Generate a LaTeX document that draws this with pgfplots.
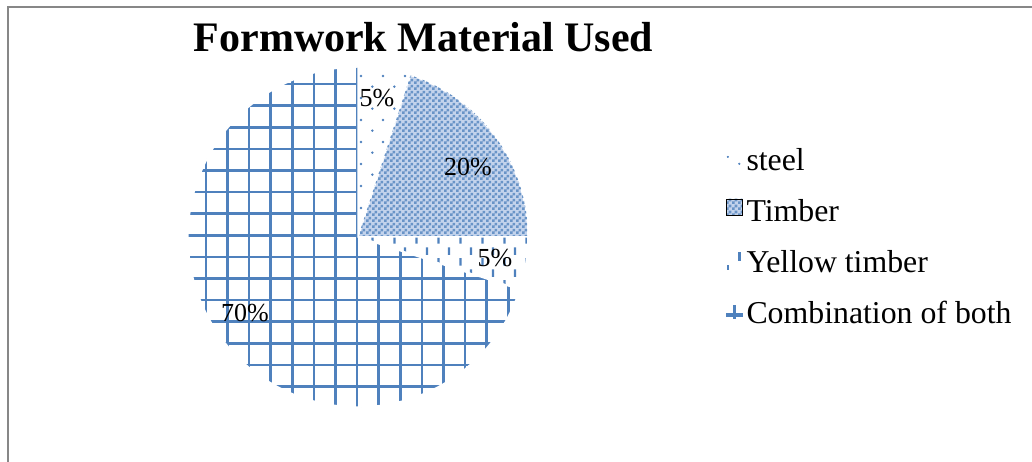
\documentclass[border=0pt]{standalone}
\usepackage{pgfplots}
\pgfplotsset{compat=1.18}
\usepackage{pgfplotstable}
\usepackage{fontspec}
\setmainfont{Liberation Serif}
\usetikzlibrary{patterns}
\definecolor{accblue}{HTML}{4F81BD}
\definecolor{lightacc}{HTML}{C3D3EC}
\definecolor{framegray}{HTML}{878787}

\pgfdeclarepatternformonly{pdots}{\pgfpoint{0bp}{0bp}}{\pgfpoint{21.6bp}{21.6bp}}{\pgfpoint{21.6bp}{21.6bp}}{%
  \pgfpathcircle{\pgfpoint{5.4bp}{5.4bp}}{1.4bp}%
  \pgfpathcircle{\pgfpoint{16.2bp}{16.2bp}}{1.4bp}%
  \pgfusepath{fill}}
\pgfdeclarepatternformonly{pdash}{\pgfpoint{0bp}{0bp}}{\pgfpoint{21.6bp}{21.6bp}}{\pgfpoint{21.6bp}{21.6bp}}{%
  \pgfpathrectangle{\pgfpoint{4.4bp}{1.5bp}}{\pgfpoint{2.2bp}{7.5bp}}%
  \pgfpathrectangle{\pgfpoint{15.2bp}{12.3bp}}{\pgfpoint{2.2bp}{7.5bp}}%
  \pgfusepath{fill}}
\pgfdeclarepatternformonly{pcheck}{\pgfpoint{0bp}{0bp}}{\pgfpoint{6bp}{6bp}}{\pgfpoint{6bp}{6bp}}{%
  \pgfpathrectangle{\pgfpoint{0bp}{0bp}}{\pgfpoint{3bp}{3bp}}%
  \pgfpathrectangle{\pgfpoint{3bp}{3bp}}{\pgfpoint{3bp}{3bp}}%
  \pgfusepath{fill}}

\pgfplotstableread{
label value
steel 5
Timber 20
Yellow 5
Combination 70
}\piedata

\tikzset{
  sl steel/.style={pattern=pdots, pattern color=accblue},
  sl timber/.style={fill=lightacc, postaction={pattern=pcheck, pattern color=accblue!85}},
  sl yellow/.style={pattern=pdash, pattern color=accblue},
}

\begin{document}
\begin{tikzpicture}[x=1bp,y=1bp]
\pgfplotstablegetelem{0}{value}\of\piedata \let\vA\pgfplotsretval
\pgfplotstablegetelem{1}{value}\of\piedata \let\vB\pgfplotsretval
\pgfplotstablegetelem{2}{value}\of\piedata \let\vC\pgfplotsretval
\pgfplotstablegetelem{3}{value}\of\piedata \let\vD\pgfplotsretval
\pgfmathsetmacro\aA{90}
\pgfmathsetmacro\aB{\aA-3.6*\vA}
\pgfmathsetmacro\aC{\aB-3.6*\vB}
\pgfmathsetmacro\aD{\aC-3.6*\vC}
\pgfmathsetmacro\aE{\aD-3.6*\vD}
\def\R{170}

\begin{axis}[
  x=1bp, y=1bp,
  xmin=-180, xmax=180, ymin=-180, ymax=180,
  hide axis, clip=false,
  anchor=origin, at={(358bp,225bp)},
  legend cell align=left,
  legend style={draw=none, fill=none, at={(1.522,0.507)}, anchor=west,
    font=\fontsize{31.8bp}{38bp}\selectfont, inner sep=0pt,
    row sep=19bp, column sep=2bp},
]
\addlegendimage{legend image code/.code={%
  \fill[accblue] (1.5bp,1bp) circle (0.8bp);
  \fill[accblue] (13bp,-6bp) circle (0.9bp);}}
\addlegendentry{\strut steel}
\addlegendimage{legend image code/.code={%
  \path[sl timber, draw=none] (0bp,-6bp) rectangle (16bp,10bp);}}
\addlegendentry{\strut Timber}
\addlegendimage{legend image code/.code={%
  \fill[accblue] (12bp,0bp) rectangle (13.6bp,8bp);
  \fill[accblue] (1bp,-9bp) rectangle (2.2bp,-5bp);}}
\addlegendentry{\strut Yellow timber}
\addlegendimage{legend image code/.code={%
  \fill[accblue] (0bp,-5bp) rectangle (16bp,-2.6bp);
  \fill[accblue] (6.8bp,-7.5bp) rectangle (9.2bp,6bp);}}
\addlegendentry{\strut Combination of both}

\path[sl steel, draw=white, line width=1.5bp] (axis cs:0,0) -- (axis cs:{\R*cos(\aA)},{\R*sin(\aA)}) arc[start angle=\aA, end angle=\aB, radius=\R bp] -- cycle;
\path[sl timber, draw=white, line width=1.5bp] (axis cs:0,0) -- (axis cs:{\R*cos(\aB)},{\R*sin(\aB)}) arc[start angle=\aB, end angle=\aC, radius=\R bp] -- cycle;
\path[sl yellow, draw=white, line width=1.5bp] (axis cs:0,0) -- (axis cs:{\R*cos(\aC)},{\R*sin(\aC)}) arc[start angle=\aC, end angle=\aD, radius=\R bp] -- cycle;
\begin{scope}
  \clip (axis cs:0,0) -- (axis cs:{\R*cos(\aD)},{\R*sin(\aD)}) arc[start angle=\aD, end angle=\aE, radius=\R bp] -- cycle;
  \pgfplotsinvokeforeach{-8,...,8}{
    \fill[accblue] (axis cs:{-2.3+#1*21.6},-180) rectangle (axis cs:{0.3+#1*21.6},180);
    \fill[accblue] (axis cs:-180,{0.3+#1*21.6}) rectangle (axis cs:180,{2.9+#1*21.6});
  }
\end{scope}
\path[draw=white, line width=1.5bp] (axis cs:0,0) -- (axis cs:{\R*cos(\aD)},{\R*sin(\aD)}) arc[start angle=\aD, end angle=\aE, radius=\R bp] -- cycle;

\begin{scope}[every node/.style={font=\fontsize{26bp}{30bp}\selectfont, inner sep=0pt}]
\node at (axis cs:19,139) {\vA\%};
\node at (axis cs:110,70) {\vB\%};
\node at (axis cs:137,-21) {\vC\%};
\node at (axis cs:-113,-76) {\vD\%};
\end{scope}
\end{axis}

\node[font=\bfseries\fontsize{42bp}{50bp}\selectfont, anchor=base, inner sep=0pt] at (423.5,410) {Formwork Material Used};
\draw[framegray, line width=1.5bp] (8,0) -- (8,455) -- (1040,455);
\pgfresetboundingbox
\path (0,0) rectangle (1032,462);
\end{tikzpicture}
\end{document}
